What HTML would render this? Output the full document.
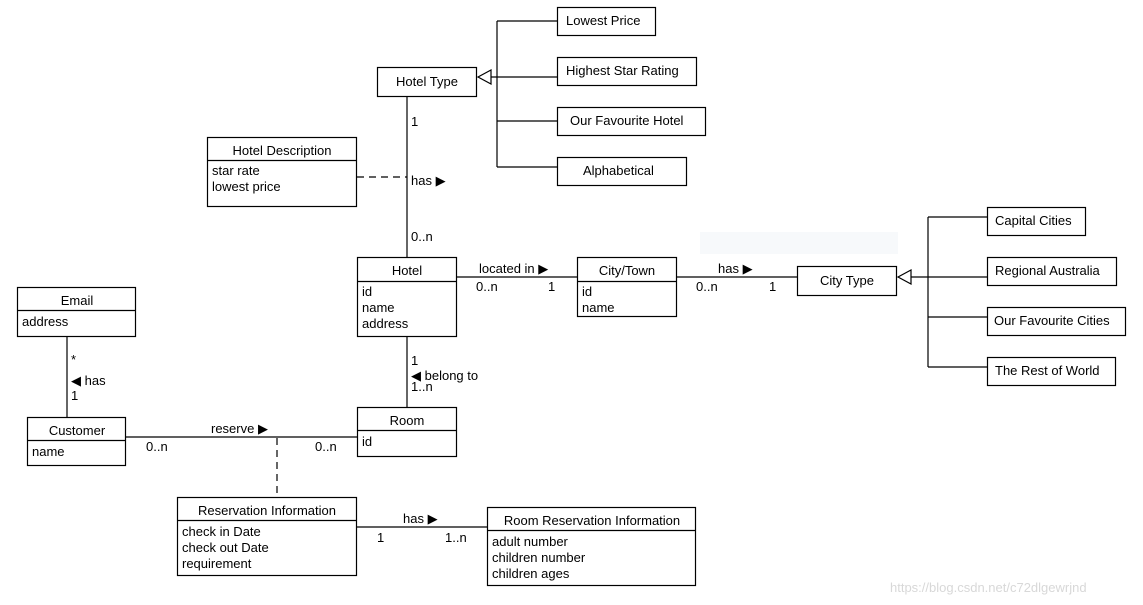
<!DOCTYPE html>
<html><head><style>
html,body{margin:0;padding:0;background:#fff;}
svg{display:block;}
text{font-family:"Liberation Sans",Arial,sans-serif;font-size:13px;fill:#000;}
.w{fill:#fff;stroke:#000;stroke-width:1.2;}
.l{stroke:#000;stroke-width:1.2;fill:none;}
.d{stroke:#000;stroke-width:1.2;fill:none;stroke-dasharray:7,5;}
.m{text-anchor:middle;}
</style></head><body>
<svg width="1143" height="605" viewBox="0 0 1143 605" xmlns="http://www.w3.org/2000/svg">
<rect width="1143" height="605" fill="#fff"/>
<!-- Hotel type generalization -->
<line class="l" x1="497" y1="21" x2="497" y2="167"/>
<line class="l" x1="497" y1="21" x2="557" y2="21"/>
<line class="l" x1="491" y1="77" x2="557" y2="77"/>
<line class="l" x1="497" y1="121" x2="557" y2="121"/>
<line class="l" x1="497" y1="167" x2="557" y2="167"/>
<polygon class="w" points="478,77 491,70 491,84"/>
<rect class="w" x="377.5" y="67.5" width="99" height="29"/>
<text class="m" x="427" y="86">Hotel Type</text>
<rect class="w" x="557.5" y="7.5" width="98" height="28"/><text x="566" y="25">Lowest Price</text>
<rect class="w" x="557.5" y="57.5" width="139" height="28"/><text x="566" y="75">Highest Star Rating</text>
<rect class="w" x="557.5" y="107.5" width="148" height="28"/><text x="570" y="125">Our Favourite Hotel</text>
<rect class="w" x="557.5" y="157.5" width="129" height="28"/><text x="583" y="175">Alphabetical</text>
<!-- hotel type - hotel -->
<line class="l" x1="407" y1="97" x2="407" y2="257"/>
<text x="411" y="126">1</text>
<text x="411" y="185">has ▶</text>
<text x="411" y="241">0..n</text>
<line class="d" x1="357" y1="177" x2="407" y2="177"/>
<rect class="w" x="207.5" y="137.5" width="149" height="69"/>
<line class="l" x1="207" y1="160.5" x2="357" y2="160.5"/>
<text class="m" x="282" y="155">Hotel Description</text>
<text x="212" y="175">star rate</text>
<text x="212" y="191">lowest price</text>
<!-- Hotel -->
<rect class="w" x="357.5" y="257.5" width="99" height="79"/>
<line class="l" x1="357" y1="281.5" x2="457" y2="281.5"/>
<text class="m" x="407" y="275">Hotel</text>
<text x="362" y="296">id</text><text x="362" y="312">name</text><text x="362" y="328">address</text>
<line class="l" x1="457" y1="277" x2="577" y2="277"/>
<text x="479" y="273">located in ▶</text>
<text x="476" y="291">0..n</text><text x="548" y="291">1</text>
<rect class="w" x="577.5" y="257.5" width="99" height="59"/>
<line class="l" x1="577" y1="281.5" x2="677" y2="281.5"/>
<text class="m" x="627" y="275">City/Town</text>
<text x="582" y="296">id</text><text x="582" y="312">name</text>
<line class="l" x1="677" y1="277" x2="797" y2="277"/>
<text x="718" y="273">has ▶</text>
<text x="696" y="291">0..n</text><text x="769" y="291">1</text>
<rect x="700" y="232" width="198" height="22" fill="#f7f9fb"/>
<rect class="w" x="797.5" y="266.5" width="99" height="29"/>
<text class="m" x="847" y="285">City Type</text>
<polygon class="w" points="898,277 911,270 911,284"/>
<line class="l" x1="911" y1="277" x2="987" y2="277"/>
<line class="l" x1="928" y1="217" x2="928" y2="367"/>
<line class="l" x1="928" y1="217" x2="987" y2="217"/>
<line class="l" x1="928" y1="317" x2="987" y2="317"/>
<line class="l" x1="928" y1="367" x2="987" y2="367"/>
<rect class="w" x="987.5" y="207.5" width="98" height="28"/><text x="995" y="225">Capital Cities</text>
<rect class="w" x="987.5" y="257.5" width="129" height="28"/><text x="995" y="275">Regional Australia</text>
<rect class="w" x="987.5" y="307.5" width="138" height="28"/><text x="994" y="325">Our Favourite Cities</text>
<rect class="w" x="987.5" y="357.5" width="128" height="28"/><text x="995" y="375">The Rest of World</text>
<!-- hotel-room -->
<line class="l" x1="407" y1="337" x2="407" y2="407"/>
<text x="411" y="365">1</text>
<text x="411" y="380">◀ belong to</text>
<text x="411" y="391">1..n</text>
<rect class="w" x="357.5" y="407.5" width="99" height="49"/>
<line class="l" x1="357" y1="430.5" x2="457" y2="430.5"/>
<text class="m" x="407" y="425">Room</text>
<text x="362" y="446">id</text>
<!-- Email -->
<rect class="w" x="17.5" y="287.5" width="118" height="49"/>
<line class="l" x1="17" y1="310.5" x2="136" y2="310.5"/>
<text class="m" x="77" y="305">Email</text>
<text x="22" y="326">address</text>
<line class="l" x1="67" y1="337" x2="67" y2="417"/>
<text x="71" y="364">*</text>
<text x="71" y="385">◀ has</text>
<text x="71" y="400">1</text>
<rect class="w" x="27.5" y="417.5" width="98" height="48"/>
<line class="l" x1="27" y1="440.5" x2="126" y2="440.5"/>
<text class="m" x="77" y="435">Customer</text>
<text x="32" y="456">name</text>
<line class="l" x1="126" y1="437" x2="357" y2="437"/>
<text x="211" y="433">reserve ▶</text>
<text x="146" y="451">0..n</text><text x="315" y="451">0..n</text>
<line class="d" x1="277" y1="438" x2="277" y2="497"/>
<rect class="w" x="177.5" y="497.5" width="179" height="78"/>
<line class="l" x1="177" y1="520.5" x2="357" y2="520.5"/>
<text class="m" x="267" y="515">Reservation Information</text>
<text x="182" y="536">check in Date</text>
<text x="182" y="552">check out Date</text>
<text x="182" y="568">requirement</text>
<line class="l" x1="357" y1="527" x2="487" y2="527"/>
<text x="403" y="523">has ▶</text>
<text x="377" y="542">1</text><text x="445" y="542">1..n</text>
<rect class="w" x="487.5" y="507.5" width="208" height="78"/>
<line class="l" x1="487" y1="530.5" x2="696" y2="530.5"/>
<text class="m" x="592" y="525">Room Reservation Information</text>
<text x="492" y="546">adult number</text>
<text x="492" y="562">children number</text>
<text x="492" y="578">children ages</text>
<text x="890" y="592" style="fill:#d8d8d8">https://blog.csdn.net/c72dlgewrjnd</text>
</svg>
</body></html>
